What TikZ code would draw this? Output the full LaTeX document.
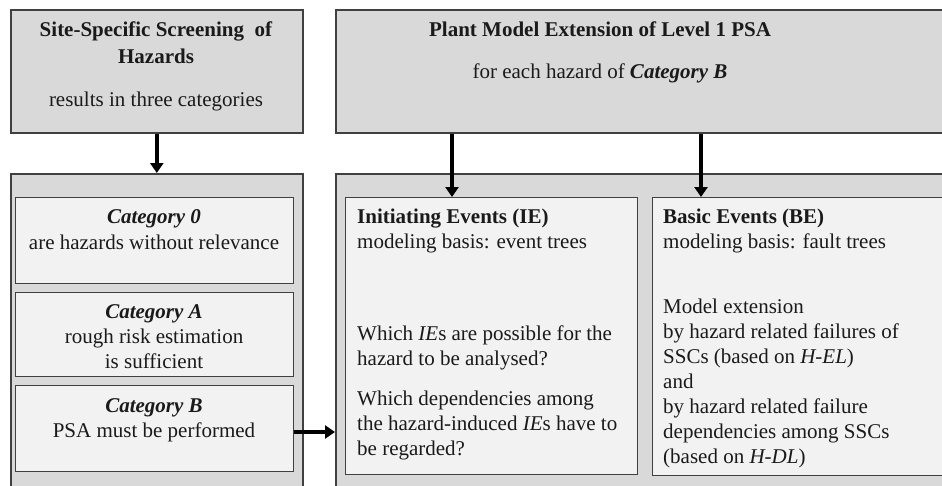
\documentclass[tikz,border=0pt]{standalone}
\usepackage{fontspec}
\setmainfont{Liberation Serif}
\usetikzlibrary{arrows.meta}
\definecolor{outerfill}{HTML}{D9D9D9}
\definecolor{innerfill}{HTML}{F2F2F2}
\definecolor{edge}{HTML}{404040}
\definecolor{txt}{HTML}{1A1A1A}
\tikzset{
  outerbox/.style={draw=edge, line width=1.6pt, fill=outerfill, inner sep=0, anchor=north west},
  innerbox/.style={draw=edge, line width=1.4pt, fill=innerfill, inner sep=0, anchor=north west},
  ln/.style={anchor=base west, inner sep=0, text=txt, font=\fontsize{21}{25}\selectfont},
  lc/.style={anchor=base, inner sep=0, text=txt, font=\fontsize{21}{25}\selectfont},
  arr/.style={line width=3.6pt, -{Triangle[length=10pt,width=13pt]}},
}
\begin{document}
\begin{tikzpicture}[x=1pt,y=-1pt]
\clip (0,0) rectangle (942,485);
\fill[white] (0,0) rectangle (942,485);
% top boxes
\node[outerbox, minimum width=292pt, minimum height=123pt] (top1) at (10,9) {};
\node[outerbox, minimum width=640pt, minimum height=123pt] (top2) at (335,9) {};
% lower outer boxes
\node[outerbox, minimum width=292pt, minimum height=340pt] (low1) at (10,173) {};
\node[outerbox, minimum width=640pt, minimum height=340pt] (low2) at (335,173) {};
% category boxes
\node[innerbox, minimum width=278pt, minimum height=86pt] (cat0) at (15,197) {};
\node[innerbox, minimum width=278pt, minimum height=84pt] (catA) at (15,292) {};
\node[innerbox, minimum width=278pt, minimum height=86pt] (catB) at (15,385) {};
% IE / BE boxes
\node[innerbox, minimum width=292pt, minimum height=277pt] (ie) at (345,197) {};
\node[innerbox, minimum width=320pt, minimum height=278pt] (be) at (652,197) {};
% texts top-left
\node[lc] (s1) at (156,36) {\textbf{Site-Specific Screening\ \ of}};
\node[lc] (s2) at (156,63) {\textbf{Hazards}};
\node[lc] (s3) at (156,106) {results in three categories};
% texts top-right
\node[lc] (p1) at (600,36) {\textbf{Plant Model Extension of Level 1 PSA}};
\node[lc] (p2) at (600,78) {for each hazard of \textbf{\textit{Category B}}};
% categories
\node[lc] (c01) at (154,223) {\textbf{\textit{Category 0}}};
\node[lc] (c02) at (154,249) {are hazards without relevance};
\node[lc] (cA1) at (154,318) {\textbf{\textit{Category A}}};
\node[lc] (cA2) at (154,343) {rough risk estimation};
\node[lc] (cA3) at (154,368) {is sufficient};
\node[lc] (cB1) at (154,412) {\textbf{\textit{Category B}}};
\node[lc] (cB2) at (154,437) {PSA must be performed};
% IE texts
\node[ln] (i1) at (357,223) {\textbf{Initiating Events (IE)}};
\node[ln] (i2) at (357,248) {modeling basis: event trees};
\node[ln] (i3) at (357,340) {Which \textit{IE}s are possible for the};
\node[ln] (i4) at (357,365) {hazard to be analysed?};
\node[ln] (i5) at (357,405) {Which dependencies among};
\node[ln] (i6) at (357,430) {the hazard-induced \textit{IE}s have to};
\node[ln] (i7) at (357,455) {be regarded?};
% BE texts
\node[ln] (b1) at (663,223) {\textbf{Basic Events (BE)}};
\node[ln] (b2) at (663,248) {modeling basis: fault trees};
\node[ln] (b3) at (663,313) {Model extension};
\node[ln] (b4) at (663,338) {by hazard related failures of};
\node[ln] (b5) at (663,363) {SSCs (based on \textit{H-EL})};
\node[ln] (b6) at (663,388) {and};
\node[ln] (b7) at (663,413) {by hazard related failure};
\node[ln] (b8) at (663,438) {dependencies among SSCs};
\node[ln] (b9) at (663,463) {(based on \textit{H-DL})};
% arrows
\draw[arr] (top1.south) -- (low1.north);
\draw[arr] ([xshift=107pt]ie.north west |- top2.south) -- ([xshift=107pt]ie.north west);
\draw[arr] ([xshift=49pt]be.north west |- top2.south) -- ([xshift=49pt]be.north west);
\draw[arr] (catB.east |- 0,432) -- (low2.west |- 0,432);
\end{tikzpicture}
\end{document}
